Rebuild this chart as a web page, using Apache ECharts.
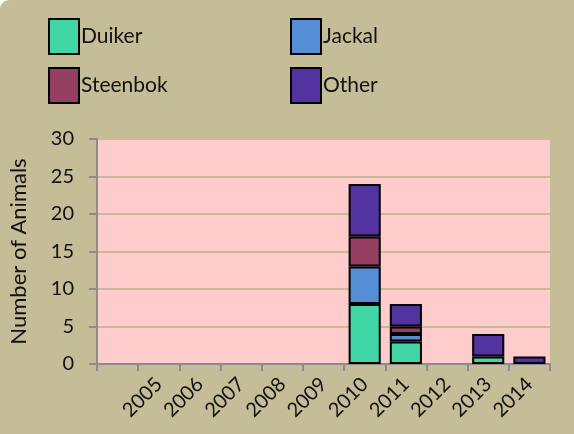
<!DOCTYPE html>
<html><head><meta charset="utf-8">
<script src="https://cdn.jsdelivr.net/npm/echarts@6/dist/echarts.min.js"></script>
<style>html,body{margin:0;padding:0;background:#FFFFFF;}#c{width:574px;height:434px;background:#C4BD97;border-radius:9px 0 0 0;}</style>
</head><body><div id="c"></div>
<script>
const categories = ['', '2005', '2006', '2007', '2008', '2009', '2010', '2011', '2012', '2013', '2014'];
const duiker   = [0, 0, 0, 0, 0, 0, 8, 3, 0, 1, 0];
const jackal   = [0, 0, 0, 0, 0, 0, 5, 1, 0, 0, 0];
const steenbok = [0, 0, 0, 0, 0, 0, 4, 1, 0, 0, 0];
const other    = [0, 0, 0, 0, 0, 0, 7, 3, 0, 3, 1];
const yTicks = [0, 5, 10, 15, 20, 25, 30];

const names = ['Duiker', 'Jackal', 'Steenbok', 'Other'];
const colors = ['#40D6A6', '#558ED5', '#953F62', '#5333A0'];
const values = [duiker, jackal, steenbok, other];
const font = 'Lato, "Open Sans", sans-serif';

const legendPos = [[43, 13], [285, 13], [43, 62], [285, 62]];
const legends = names.map((n, i) => ({
  data: [n], left: legendPos[i][0], top: legendPos[i][1],
  itemWidth: 30, itemHeight: 35, itemGap: 0, selectedMode: false,
  icon: 'rect',
  textStyle: {fontFamily: font, fontSize: 21, color: '#111', padding: [2, 0, 0, -3]},
  itemStyle: {borderColor: '#000', borderWidth: 2}
}));

const chart = echarts.init(document.getElementById('c'));
chart.setOption({
  backgroundColor: 'transparent',
  animation: false,
  legend: legends,
  grid: {left: 97, right: 24, top: 139, bottom: 70, show: true, backgroundColor: '#FFCCCC', borderWidth: 0},
  xAxis: {
    type: 'category', data: categories,
    axisLine: {lineStyle: {color: '#8C8C8C', width: 2}},
    axisTick: {show: true, alignWithLabel: false, length: 7, lineStyle: {color: '#8C8C8C', width: 2}},
    axisLabel: {rotate: 45, interval: 0, fontFamily: font, fontSize: 20, color: '#111', margin: 17}
  },
  yAxis: {
    type: 'value', min: yTicks[0], max: yTicks[yTicks.length - 1], interval: 5,
    name: 'Number of Animals', nameLocation: 'middle', nameGap: 67,
    nameTextStyle: {fontFamily: font, fontSize: 22, color: '#111'},
    axisLine: {show: true, lineStyle: {color: '#8C8C8C', width: 2}},
    axisTick: {show: true, length: 8, lineStyle: {color: '#8C8C8C', width: 2}},
    axisLabel: {fontFamily: font, fontSize: 20, color: '#111', margin: 23},
    splitLine: {lineStyle: {color: '#C9B996', width: 2}}
  },
  series: names.map((n, i) => ({
    name: n, type: 'bar', stack: 'all',
    data: values[i].map(v => (v === 0 ? '-' : v)),
    barWidth: '78%',
    itemStyle: {color: colors[i], borderColor: '#000', borderWidth: 2}
  }))
});
</script></body></html>
